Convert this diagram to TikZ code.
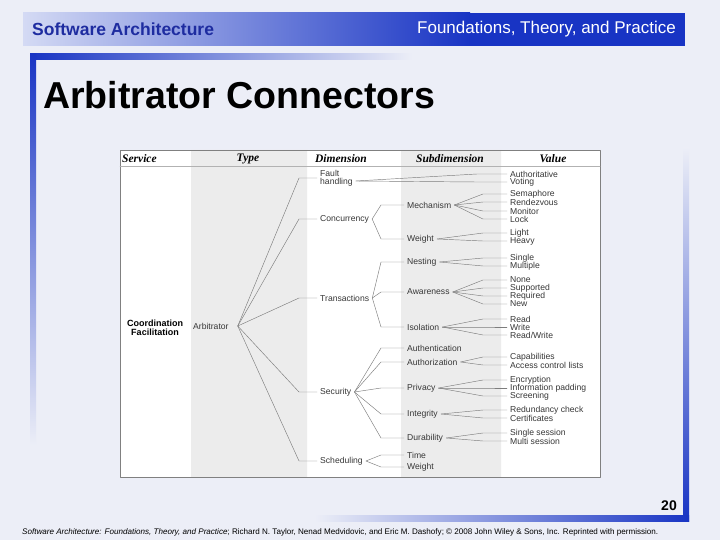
\documentclass[tikz,border=0pt]{standalone}
\usepackage{fontspec}
\usepackage{graphicx}
\setmainfont{Liberation Sans}
\newfontfamily\headserif{Liberation Serif}
\definecolor{slidebg}{RGB}{236,238,247}
\definecolor{barblue}{RGB}{24,52,196}
\definecolor{barlight}{RGB}{212,218,244}
\definecolor{headtext}{RGB}{30,44,160}
\definecolor{colgray}{RGB}{236,236,236}
\definecolor{treeline}{RGB}{125,125,125}
\definecolor{treetext}{RGB}{55,55,55}
\tikzset{
	lbl/.style={anchor=west, inner xsep=3pt, inner ysep=0pt, text=treetext, font=\fontsize{8.6}{8}\selectfont},
	branch/.style={draw=treeline, line width=0.45pt},
	colhead/.style={inner sep=0pt, font=\headserif\bfseries\itshape\fontsize{11.5}{11.5}\selectfont},
}
\begin{document}
\begin{tikzpicture}[x=1pt, y=-1pt, line join=round, line cap=round]
		\useasboundingbox (0,0) rectangle (720,540);
		\fill[slidebg] (0,0) rectangle (720,540);
		\fill[barblue] (23,13) rectangle (685,46);
		\shade[left color=barlight, right color=barblue] (23,13) rectangle (470,46);
		\shade[left color=barblue, right color=slidebg] (30,54) rectangle (412,60);
		\shade[top color=barblue, bottom color=slidebg] (30,54) rectangle (36,445);
		\shade[top color=slidebg, bottom color=barblue] (683,148) rectangle (689,521);
		\shade[left color=slidebg, right color=barblue] (315,515) rectangle (689,521);
		\node[anchor=west, inner sep=0pt, text=headtext, font=\bfseries\fontsize{17.5}{17.5}\selectfont] (hleft) at (32,29) {Software Architecture};
		\node[anchor=east, inner sep=0pt, text=white, font=\fontsize{17}{17}\selectfont] (hright) at (676,29) {Foundations, Theory, and Practice};
		\node[anchor=base west, inner sep=0pt, font=\bfseries\fontsize{37.5}{37.5}\selectfont] (title) at (43,109) {Arbitrator Connectors};
		
		\fill[white] (120,150) rectangle (600,477);
		\fill[colgray] (191,150) rectangle (307,477) (401,150) rectangle (501,477);
		\draw[gray, line width=0.6pt] (120,150) rectangle (600,477);
		\draw[gray!60, line width=0.5pt] (120,166.5) -- (600,166.5);
		\node[colhead, anchor=west] (hsrv) at (122,158.5) {Service};
		\node[colhead] (htyp) at (248,158.5) {Type};
		\node[colhead] (hdim) at (341,158.5) {Dimension};
		\node[colhead] (hsub) at (450,158.5) {Subdimension};
		\node[colhead] (hval) at (553,158.5) {Value};
		
		\node[align=center, inner sep=0pt, font=\bfseries\fontsize{9}{9}\selectfont] (srv) at (155,328) {Coordination\\Facilitation};
		\node[lbl] (arb) at (190,326) {Arbitrator};
		\node[lbl, align=left] (fh) at (317,178) {Fault\\handling};
		\foreach \n/\y/\t in {con/219/Concurrency, trn/298/Transactions, sec/392/Security, sch/461/Scheduling}
			\node[lbl] (\n) at (317,\y) {\t};
		\foreach \n/\y/\t in {mec/205/Mechanism, wgt/239/Weight, nst/262/Nesting, awa/292/Awareness, iso/327/Isolation, ath/348/Authentication, atz/362/Authorization, prv/388/Privacy, itg/414/Integrity, dur/438/Durability, tim/455/Time, swt/467/Weight}
			\node[lbl] (\n) at (404,\y) {\t};
		\foreach \n/\y/\t in {aut/174/Authoritative, vot/182/Voting, sem/194/Semaphore, ren/202/Rendezvous, mon/211/Monitor, loc/219/Lock, lgt/233/Light, hvy/241/Heavy, sgl/258/Single, mul/266/Multiple, non/280/None, sup/288/Supported, req/296/Required, new/304/New, rd/319/Read, wr/327/Write, rw/335/{Read/Write}, cap/357/Capabilities, acl/365/Access control lists, enc/380/Encryption, inf/388/Information padding, scr/396/Screening, red/410/Redundancy check, cer/418/Certificates, sss/433/Single session, mss/441/Multi session}
			\node[lbl] (\n) at (507,\y) {\t};
		
		\coordinate (hub) at ([xshift=6pt]arb.east);
		\coordinate (fhout) at ([yshift=-3pt]fh.east);
		\foreach \t in {fh,con,trn,sec,sch}
			\draw[branch] (hub) -- ([xshift=-18pt]\t.west) -- (\t.west);
		\foreach \s/\t in {con/mec, con/wgt, trn/nst, trn/awa, trn/iso, sec/ath, sec/atz, sec/prv, sec/itg, sec/dur, sch/tim, sch/swt}
			\draw[branch] (\s.east) -- ([xshift=-23pt]\t.west) -- (\t.west);
		\foreach \t in {aut,vot}
			\draw[branch] (fhout) -- ([xshift=-30pt]\t.west) -- (\t.west);
		\foreach \s/\t in {mec/sem, mec/ren, mec/mon, mec/loc, wgt/lgt, wgt/hvy, nst/sgl, nst/mul, awa/non, awa/sup, awa/req, awa/new, iso/rd, iso/wr, iso/rw, atz/cap, atz/acl, prv/enc, prv/inf, prv/scr, itg/red, itg/cer, dur/sss, dur/mss}
			\draw[branch] (\s.east) -- ([xshift=-24pt]\t.west) -- (\t.west);
		
		\node[anchor=east, inner sep=0pt, font=\bfseries\fontsize{14}{14}\selectfont] (pnum) at (677,506) {20};
		\node[anchor=base west, inner sep=0pt, font=\fontsize{7}{7}\selectfont] (foot) at (22,534) {\resizebox{636pt}{!}{\textit{Software Architecture: Foundations, Theory, and Practice}; Richard N. Taylor, Nenad Medvidovic, and Eric M. Dashofy; © 2008 John Wiley \& Sons, Inc. Reprinted with permission.}};
	\end{tikzpicture}
\end{document}
